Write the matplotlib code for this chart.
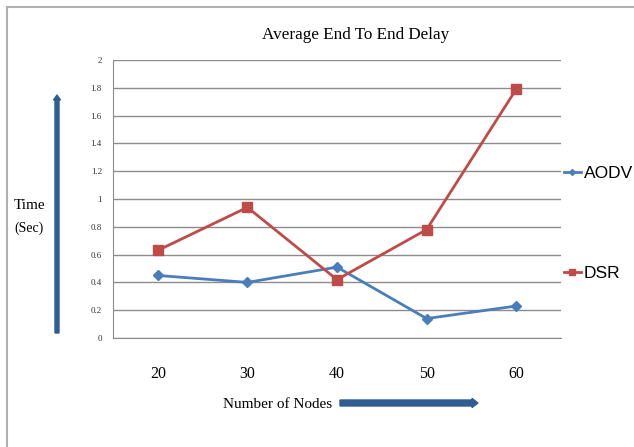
import matplotlib.pyplot as plt
from matplotlib.lines import Line2D
from matplotlib.patches import FancyArrow

# number of nodes and average end-to-end delay (sec)
nodes = ["20", "30", "40", "50", "60"]
aodv = [0.45, 0.40, 0.51, 0.14, 0.23]
dsr = [0.63, 0.94, 0.42, 0.78, 1.79]
y_ticks = [0, 0.2, 0.4, 0.6, 0.8, 1, 1.2, 1.4, 1.6, 1.8, 2]

W, H = 634, 447
fig = plt.figure(figsize=(W / 100, H / 100), dpi=100)
fig.patch.set_facecolor("white")

# frame around the chart (runs off the right and bottom)
fig.add_artist(Line2D([7 / W, 7 / W], [0, 1 - 7 / H], color="#b0b0b0", lw=1.5))
fig.add_artist(Line2D([7 / W, 1], [1 - 7 / H, 1 - 7 / H], color="#b0b0b0", lw=1.5))

ax = fig.add_axes([113 / W, 1 - 338 / H, (561 - 113) / W, (338 - 60) / H])
x = range(1, len(nodes) + 1)

ax.plot(x, aodv, color="#4a7ebb", lw=2, marker="D", ms=5, label="AODV")
ax.plot(x, dsr, color="#be4b48", lw=2, marker="s", ms=7, label="DSR")

ax.set_xlim(0.5, 5.5)
ax.set_ylim(0, 2)
ax.set_yticks(y_ticks)
ax.set_yticklabels([f"{v:g}" for v in y_ticks], fontsize=6.5,
                   family="Liberation Serif", color="#333333")
ax.set_xticks(list(x))
ax.set_xticklabels(nodes, fontsize=11.5, family="Liberation Serif")
ax.tick_params(axis="both", length=0)
ax.tick_params(axis="x", pad=20)
ax.tick_params(axis="y", pad=8)
ax.yaxis.grid(True, color="#8c8c8c", lw=1)
ax.set_axisbelow(True)
for s in ["top", "right"]:
    ax.spines[s].set_visible(False)
ax.spines["left"].set_color("#8c8c8c")
ax.spines["bottom"].set_color("#8c8c8c")

fig.text(356 / W, 1 - 35 / H, "Average End To End Delay", ha="center",
         va="center", fontsize=12.3, family="Liberation Serif")

# axis captions with arrows
fig.text(30 / W, 1 - 205 / H, "Time", ha="center", va="center",
         fontsize=11, family="Liberation Serif")
fig.text(29 / W, 1 - 228 / H, "(Sec)", ha="center", va="center",
         fontsize=10, family="Liberation Serif")
fig.text(278 / W, 1 - 405 / H, "Number of Nodes", ha="center", va="center",
         fontsize=11, family="Liberation Serif")

arrow_col = "#2e5e91"
fig.add_artist(FancyArrow(57 / W, 1 - 333 / H, 0, (333 - 95) / H, width=4 / W,
                          head_width=7 / W, head_length=5 / H,
                          length_includes_head=True, color=arrow_col,
                          transform=fig.transFigure))
fig.add_artist(FancyArrow(340 / W, 1 - 403 / H, (478 - 340) / W, 0, width=6 / H,
                          head_width=9 / H, head_length=6 / W,
                          length_includes_head=True, color=arrow_col,
                          transform=fig.transFigure))

fig.legend(loc="upper left", bbox_to_anchor=(548 / W, 1 - 150 / H),
           frameon=False, prop={"family": "Liberation Sans", "size": 12.5},
           handlelength=1.0, handletextpad=0.15, labelspacing=4.9,
           markerscale=0.6)

fig.savefig("out.png", dpi=100)
